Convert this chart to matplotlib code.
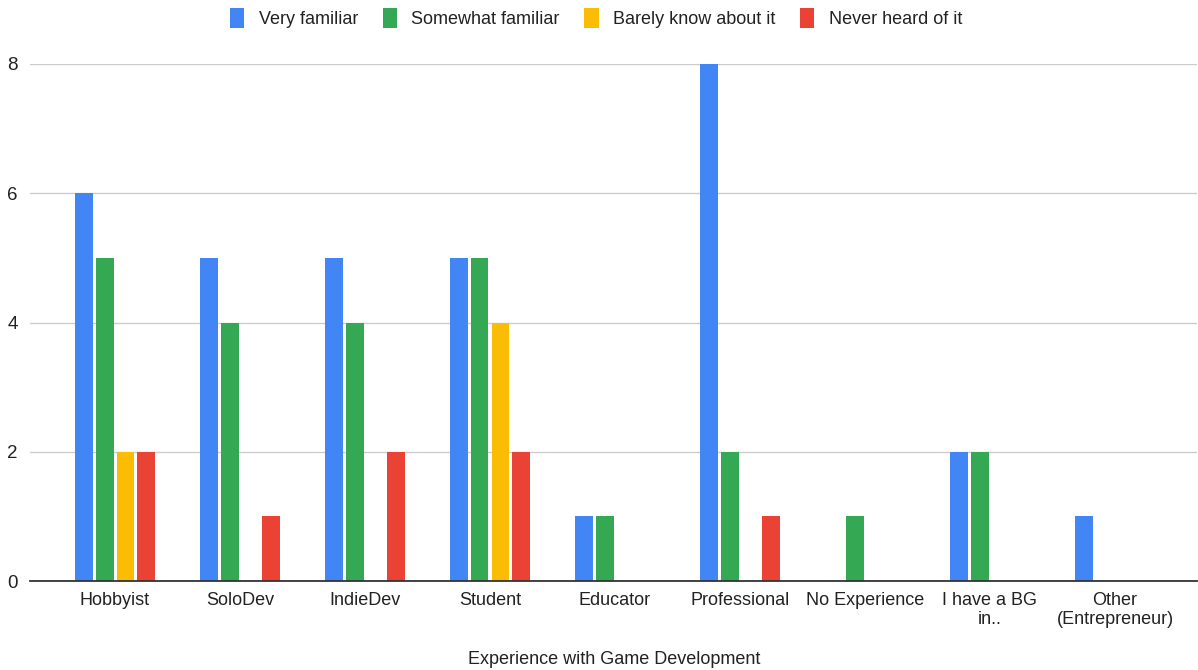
import numpy as np
import matplotlib.pyplot as plt

plt.rcParams["font.family"] = ["Liberation Sans", "DejaVu Sans"]

categories = ["Hobbyist", "SoloDev", "IndieDev", "Student", "Educator",
              "Professional", "No Experience", "I have a BG\nin..",
              "Other\n(Entrepreneur)"]
series_names = ["Very familiar", "Somewhat familiar",
                "Barely know about it", "Never heard of it"]
very_familiar = [6, 5, 5, 5, 1, 8, 0, 2, 1]
somewhat_familiar = [5, 4, 4, 5, 1, 2, 1, 2, 0]
barely_know = [2, 0, 0, 4, 0, 0, 0, 0, 0]
never_heard = [2, 1, 2, 2, 0, 1, 0, 0, 0]
y_ticks = [0, 2, 4, 6, 8]

colors = ["#4285F4", "#34A853", "#FBBC04", "#EA4335"]
series = [very_familiar, somewhat_familiar, barely_know, never_heard]

W, H = 1198, 670
fig = plt.figure(figsize=(W / 100, H / 100), dpi=100)
ax = fig.add_axes([30 / W, 89 / H, (1197 - 30) / W, (581 - 64) / H])

x = np.arange(len(categories))
step = 0.166
width = 0.142
for i, (vals, color, name) in enumerate(zip(series, colors, series_names)):
    offset = (i - 1.5) * step
    ax.bar(x + offset, vals, width, color=color, label=name, zorder=3)

ax.set_xlim(-0.68, 8.656)
ax.set_ylim(0, 8)
ax.set_yticks(y_ticks)
ax.set_xticks(x)
ax.set_xticklabels(categories, fontsize=13, color="#222222", linespacing=1.12)
ax.tick_params(axis="both", length=0, labelcolor="#222222")
ax.tick_params(axis="y", pad=9, labelsize=13.5)
ax.tick_params(axis="x", pad=8, labelsize=13)

for sp in ["top", "right", "left"]:
    ax.spines[sp].set_visible(False)
ax.spines["bottom"].set_color("#333333")
ax.spines["bottom"].set_linewidth(1.3)
ax.spines["bottom"].set_zorder(4)
ax.yaxis.grid(True, color="#cccccc", linewidth=1.0, zorder=0)
ax.set_axisbelow(True)

fig.text(614 / W, 1 - 660 / H, "Experience with Game Development",
         fontsize=13, color="#222222", ha="center", va="center")

fig.legend(loc="center", bbox_to_anchor=(596 / W, 1 - 18 / H), ncol=4,
           frameon=False, fontsize=13, handlelength=0.8, handleheight=1.3,
           handletextpad=0.8, columnspacing=1.35, labelcolor="#222222",
           borderaxespad=0, borderpad=0)

fig.savefig("out.png", dpi=100)
